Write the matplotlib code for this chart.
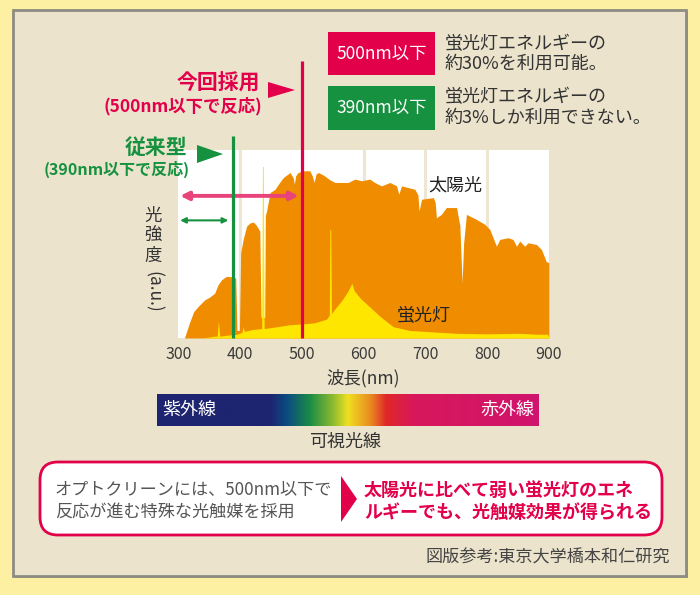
import numpy as np
import matplotlib
matplotlib.use('Agg')
import matplotlib.pyplot as plt
from matplotlib.patches import Rectangle, FancyBboxPatch, Polygon
from matplotlib.colors import LinearSegmentedColormap

plt.rcParams['font.family'] = ['Noto Sans CJK JP', 'DejaVu Sans']

# ---------------- data ----------------
sun_wl = [300, 310, 318, 325, 332, 343, 350, 359, 364, 370, 378, 386, 393, 395, 399, 401, 405,
          410.7, 416, 421.5, 426, 432, 434, 440, 441, 443, 448.5, 456.6, 463, 470, 481, 486, 488,
          490, 494, 502, 513, 517, 520, 523, 527, 537, 545, 553.8, 575, 586, 597, 610, 618, 629,
          642.7, 653.5, 657, 661.6, 683, 688, 690, 694, 713, 716, 718, 726, 734, 750.6, 756,
          759.6, 762, 766.6, 782.8, 796.3, 804.4, 810, 815.2, 820.6, 834, 842, 847.6, 853, 861,
          866.5, 880, 888, 896, 900]
sun_val = [0, 0, 0.08, 0.14, 0.167, 0.203, 0.215, 0.238, 0.28, 0.309, 0.327, 0.325, 0.318, 0.04,
           0.04, 0.45, 0.523, 0.594, 0.61, 0.615, 0.6, 0.567, 0.11, 0.11, 0.65, 0.674, 0.771,
           0.789, 0.82, 0.851, 0.878, 0.85, 0.816, 0.86, 0.878, 0.887, 0.887, 0.86, 0.825, 0.87,
           0.878, 0.86, 0.84, 0.825, 0.825, 0.843, 0.834, 0.843, 0.825, 0.807, 0.825, 0.807,
           0.763, 0.807, 0.789, 0.76, 0.674, 0.736, 0.745, 0.72, 0.638, 0.656, 0.692, 0.692,
           0.594, 0.292, 0.5, 0.656, 0.629, 0.603, 0.576, 0.53, 0.487, 0.523, 0.532, 0.523,
           0.487, 0.514, 0.487, 0.505, 0.496, 0.47, 0.405, 0.40]

fl_wl = [340, 360, 363, 365, 367, 380, 395, 403, 405, 407, 420, 435, 436.3, 437.7, 439, 460,
         480, 500, 520, 540, 544.5, 545.5, 546.8, 548, 555, 565, 575, 581, 585, 595, 605, 627,
         648, 675, 700, 750, 800, 850, 880, 898, 900]
fl_val = [0, 0.01, 0.01, 0.09, 0.01, 0.015, 0.02, 0.03, 0.06, 0.035, 0.045, 0.05, 0.91, 0.91,
          0.05, 0.06, 0.07, 0.075, 0.08, 0.1, 0.12, 0.576, 0.576, 0.13, 0.16, 0.2, 0.25, 0.29,
          0.25, 0.21, 0.18, 0.114, 0.06, 0.04, 0.035, 0.025, 0.022, 0.025, 0.02, 0.02, 0]

x_ticks = [300, 400, 500, 600, 700, 800, 900]
x_tick_labels = ['300', '400', '500', '600', '700', '800', '900']
grid_wl = [400, 500, 600, 700, 800]
cut_new = 500      # 今回採用
cut_old = 388      # 従来型
arrow_new = (303, 495)
arrow_old = (303, 381)

spectrum_stops = [0.0, 0.297, 0.34, 0.40, 0.46, 0.50, 0.56, 0.60, 0.67, 1.0]
spectrum_colors = ['#1E2470', '#1E2470', '#0B4C82', '#1A8C45', '#8CBA30', '#F0E020',
                   '#E88A20', '#E02828', '#D8185A', '#D0146E']

# ---------------- colours ----------------
C_OUT = '#FEF0A2'
C_PANEL = '#EBE3CC'
C_RED = '#E3004B'
C_GREEN = '#16913F'
C_ORANGE = '#F08C00'
C_YELLOW = '#FFE600'
C_TEXT = '#333333'

fig = plt.figure(figsize=(7, 5.95), dpi=100, facecolor=C_OUT)

# background axes in pixel coordinates
bg = fig.add_axes([0, 0, 1, 1], zorder=0)
bg.axis('off')

bg.add_patch(Rectangle((15, 12), 673, 566, fc='#B0AC9C', ec='none', zorder=1))
bg.add_patch(Rectangle((13, 10), 673, 566, fc=C_PANEL, ec='#8E8C82', lw=2, zorder=1))

# top-right legend boxes
bg.add_patch(Rectangle((328, 32), 107, 43, fc=C_RED, ec='none', zorder=2))
bg.add_patch(Rectangle((328, 86), 107, 44, fc=C_GREEN, ec='none', zorder=2))
bg.text(381.5, 53.5, '500nm以下', color='white', fontsize=12.5, ha='center', va='center')
bg.text(381.5, 108, '390nm以下', color='white', fontsize=12.5, ha='center', va='center')
bg.text(445, 44, '蛍光灯エネルギーの', color=C_TEXT, fontsize=13, ha='left', va='center')
bg.text(445, 64, '約30%を利用可能。', color=C_TEXT, fontsize=13, ha='left', va='center')
bg.text(445, 97.5, '蛍光灯エネルギーの', color=C_TEXT, fontsize=13, ha='left', va='center')
bg.text(445, 117.5, '約3%しか利用できない。', color=C_TEXT, fontsize=13, ha='left', va='center')

# y label (vertical Japanese)
for ch, yy in zip('光強度', [216, 236, 256]):
    bg.text(153, yy, ch, color=C_TEXT, fontsize=12.5, ha='center', va='center')
bg.text(153, 292, '(a.u.)', color=C_TEXT, fontsize=12.5, ha='center', va='center', rotation=-90)

# spectrum bar
cmap = LinearSegmentedColormap.from_list('spec', list(zip(spectrum_stops, spectrum_colors)))
grad = np.linspace(0, 1, 512).reshape(1, -1)
bg.imshow(grad, cmap=cmap, extent=(157, 539, 426, 394), aspect='auto',
          interpolation='bilinear', zorder=3)
bg.text(162, 410, '紫外線', color='white', fontsize=13, ha='left', va='center', zorder=4)
bg.text(534, 410, '赤外線', color='white', fontsize=13, ha='right', va='center', zorder=4)
bg.text(346, 442, '可視光線', color=C_TEXT, fontsize=13, ha='center', va='center')

# bottom message box
bg.add_patch(FancyBboxPatch((40, 462), 622, 73, boxstyle='round,pad=0,rounding_size=18',
                            fc='white', ec=C_RED, lw=2, zorder=2))
bg.text(55, 490, 'オプトクリーンには、500nm以下で', color='#555555', fontsize=12.3,
        ha='left', va='center', zorder=4)
bg.text(55, 512, '反応が進む特殊な光触媒を採用', color='#555555', fontsize=12.3,
        ha='left', va='center', zorder=4)
bg.add_patch(Polygon([(341, 476), (357, 499), (341, 522)], closed=True, fc=C_RED, ec='none',
                     zorder=3))
bg.text(364, 490, '太陽光に比べて弱い蛍光灯のエネ', color=C_RED, fontsize=13,
        fontweight='bold', ha='left', va='center', zorder=4)
bg.text(364, 512, 'ルギーでも、光触媒効果が得られる', color=C_RED, fontsize=13,
        fontweight='bold', ha='left', va='center', zorder=4)
bg.text(670, 558, '図版参考:東京大学橋本和仁研究', color='#444444', fontsize=12.3,
        ha='right', va='center')

bg.set_xlim(0, 700)
bg.set_ylim(595, 0)

# ---------------- spectrum plot ----------------
L, R, T, B = 178.3, 548.8, 149.5, 338
ax = fig.add_axes([L / 700, 1 - B / 595, (R - L) / 700, (B - T) / 595], zorder=2)
ax.set_facecolor('white')
ax.set_xlim(300, 900)
ax.set_ylim(0, 1)
for s in ax.spines.values():
    s.set_visible(False)
ax.set_yticks([])
ax.set_xticks(x_ticks)
ax.set_xticklabels(x_tick_labels, fontsize=11.5, color='#3a3a3a')
ax.tick_params(axis='x', length=0, pad=6)
ax.set_xlabel('波長(nm)', fontsize=12.5, color=C_TEXT, labelpad=4)

for g in grid_wl:
    ax.axvline(g, color='#EDE6D2', lw=2.2, zorder=1)

ax.fill_between(sun_wl, sun_val, 0, color=C_ORANGE, lw=0, zorder=2)
ax.fill_between(fl_wl, fl_val, 0, color=C_YELLOW, lw=0, zorder=3)

ax.text(748, 0.81, '太陽光', fontsize=13, color='#222222', ha='center', va='center', zorder=6)
ax.text(698, 0.117, '蛍光灯', fontsize=13, color='#222222', ha='center', va='center', zorder=6)

# double arrows
ax.annotate('', xy=(arrow_new[1], 0.754), xytext=(arrow_new[0], 0.754),
            arrowprops=dict(arrowstyle='<|-|>', color='#E8437A', lw=2.8,
                            mutation_scale=12, shrinkA=0, shrinkB=0), zorder=5)
ax.annotate('', xy=(arrow_old[1], 0.624), xytext=(arrow_old[0], 0.624),
            arrowprops=dict(arrowstyle='<|-|>', color=C_GREEN, lw=1.5,
                            mutation_scale=8, shrinkA=0, shrinkB=0), zorder=5)

# cut-off vertical lines (extend above the plot)
ax.plot([cut_new, cut_new], [0, 1.467], color=C_RED, lw=2.3, clip_on=False, zorder=7,
        solid_capstyle='butt')
ax.plot([cut_old, cut_old], [0, 1.074], color=C_GREEN, lw=2.3, clip_on=False, zorder=7,
        solid_capstyle='butt')

# ---------------- overlay labels (drawn above the plot area) ----------------
ov = fig.add_axes([0, 0, 1, 1], zorder=5)
ov.axis('off')
ov.patch.set_alpha(0)
ov.text(260, 83, '今回採用', color=C_RED, fontsize=15, fontweight='bold', ha='right', va='center')
ov.text(262, 106, '(500nm以下で反応)', color=C_RED, fontsize=12.5, fontweight='bold',
        ha='right', va='center')
ov.add_patch(Polygon([(268, 82), (295, 90), (268, 98)], closed=True, fc=C_RED, ec='none'))
ov.text(187, 147, '従来型', color=C_GREEN, fontsize=15, fontweight='bold', ha='right', va='center')
ov.text(190, 169, '(390nm以下で反応)', color=C_GREEN, fontsize=11.5, fontweight='bold',
        ha='right', va='center')
ov.add_patch(Polygon([(197, 145), (223, 154), (197, 163)], closed=True, fc=C_GREEN, ec='none'))
ov.set_xlim(0, 700)
ov.set_ylim(595, 0)

fig.savefig('out.png', dpi=100, facecolor=C_OUT)
